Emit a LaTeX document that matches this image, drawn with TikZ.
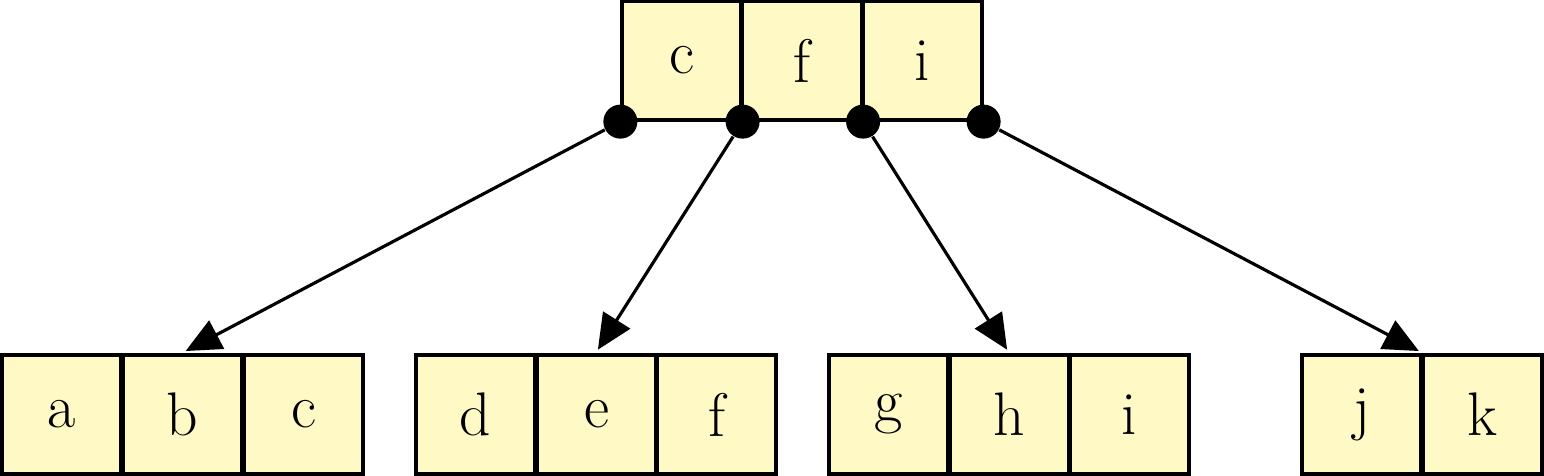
\documentclass[tikz,border=0pt]{standalone}
\usetikzlibrary{arrows.meta,fit}
\definecolor{cellfill}{RGB}{255,249,197}
\begin{document}
\begin{tikzpicture}[x=0.01cm,y=-0.01cm,
  cell/.style={draw=black,fill=cellfill,line width=0.9pt,minimum size=1.19cm,inner sep=0pt,
    font=\fontsize{17.5}{20}\selectfont},
  knot/.style={circle,fill=black,inner sep=0pt,minimum size=0.34cm},
  link/.style={line width=0.9pt,-{Triangle[length=10pt,width=9pt]},shorten >=1pt},
  grp/.style={inner sep=0pt}]
\useasboundingbox (0,0) rectangle (1544,476);
% root
\node[cell] (rc) at (681.5,60.5) {c};
\node[cell] (rf) at (802,60.5) {f};
\node[cell] (ri) at (922.5,60.5) {i};
% leaves
\node[cell] (la) at (61.5,414.5) {a};
\node[cell] (lb) at (182.5,414.5) {b};
\node[cell] (lc) at (303.5,414.5) {c};
\node[cell] (ld) at (475.5,414.5) {d};
\node[cell] (le) at (596.5,414.5) {e};
\node[cell] (lf) at (716.5,414.5) {f};
\node[cell] (lg) at (888.5,414.5) {g};
\node[cell] (lh) at (1009.5,414.5) {h};
\node[cell] (li) at (1129.5,414.5) {i};
\node[cell] (lj) at (1361.5,414.5) {j};
\node[cell] (lk) at (1482.5,414.5) {k};
% groups
\node[grp,fit=(la)(lc)] (g1) {};
\node[grp,fit=(ld)(lf)] (g2) {};
\node[grp,fit=(lg)(li)] (g3) {};
\node[grp,fit=(lj)(lk)] (g4) {};
% pointer dots
\node[knot] (p1) at (rc.south west) {};
\node[knot] (p2) at (rc.south east) {};
\node[knot] (p3) at (rf.south east) {};
\node[knot] (p4) at (ri.south east) {};
% links
\draw[link] (p1) -- (g1.north);
\draw[link] (p2) -- (g2.north);
\draw[link] (p3) -- (g3.north);
\draw[link] (p4) -- (g4.north);
\end{tikzpicture}
\end{document}
